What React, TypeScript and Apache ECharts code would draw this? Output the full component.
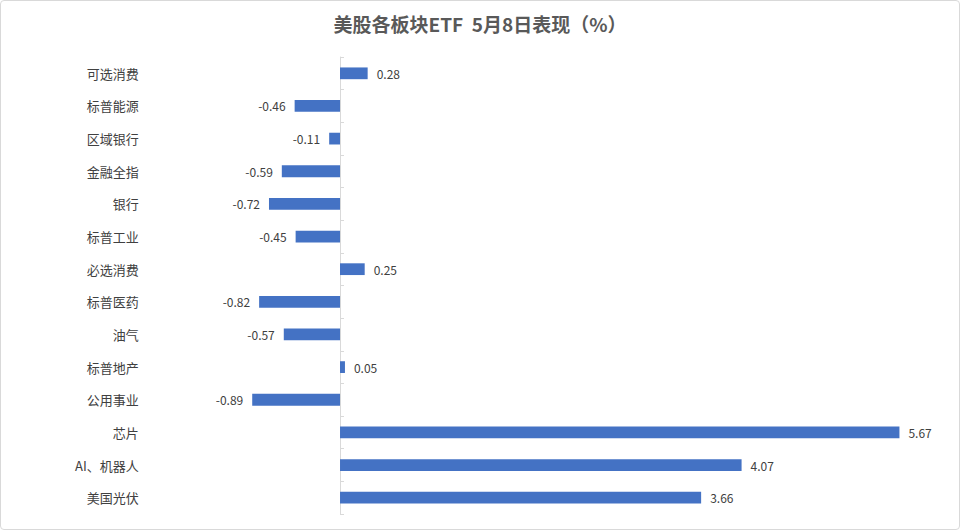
import React, { useEffect, useRef } from "react";
import * as echarts from "echarts";

const categories = [
  "可选消费", "标普能源", "区域银行", "金融全指", "银行", "标普工业", "必选消费",
  "标普医药", "油气", "标普地产", "公用事业", "芯片", "AI、机器人", "美国光伏",
];
const values = [0.28, -0.46, -0.11, -0.59, -0.72, -0.45, 0.25, -0.82, -0.57, 0.05, -0.89, 5.67, 4.07, 3.66];
const titleText = "美股各板块ETF  5月8日表现（%）";

export default function App() {
  const ref = useRef<HTMLDivElement>(null);
  useEffect(() => {
    document.body.style.margin = "0";
    const chart = echarts.init(ref.current!, null, { renderer: "svg" });
    const font = "'Noto Sans CJK SC', 'Noto Sans', sans-serif";
    chart.setOption({
      animation: false,
      textStyle: { fontFamily: font },
      title: {
        text: titleText,
        left: "center",
        top: 8,
        textStyle: { fontSize: 19, fontWeight: "bold", color: "#595959", fontFamily: font },
      },
      grid: { left: 141.7, right: 27, top: 56, bottom: 15, containLabel: false },
      xAxis: {
        type: "value",
        min: -2,
        max: 6,
        show: false,
        splitLine: { show: false },
      },
      yAxis: [
        {
          type: "category",
          data: categories,
          inverse: true,
          position: "left",
          axisLine: { show: false, onZero: false },
          axisTick: { show: false },
          axisLabel: { color: "#404040", fontSize: 13, margin: 4, fontFamily: font },
        },
        {
          type: "category",
          data: categories,
          inverse: true,
          position: "left",
          axisLine: { show: true, onZero: true, lineStyle: { color: "#d9d9d9", width: 1 } },
          axisTick: { show: true, inside: true, length: 4, lineStyle: { color: "#d9d9d9" } },
          axisLabel: { show: false },
        },
      ],
      series: [
        {
          type: "bar",
          yAxisIndex: 0,
          barCategoryGap: "64%",
          itemStyle: { color: "#4472C4" },
          label: {
            show: true,
            distance: 9,
            color: "#404040",
            fontSize: 12,
            fontFamily: font,
            formatter: (p: any) => p.value.toFixed(2),
          },
          data: values.map((v) => ({
            value: v,
            label: { position: v < 0 ? "left" : "right" },
          })),
        },
      ],
    });
    return () => chart.dispose();
  }, []);
  return (
    <div
      style={{
        width: 960,
        height: 530,
        boxSizing: "border-box",
        border: "1px solid #d9d9d9",
        borderRadius: 4,
        background: "#fff",
      }}
    >
      <div ref={ref} style={{ width: 958, height: 528 }} />
    </div>
  );
}
